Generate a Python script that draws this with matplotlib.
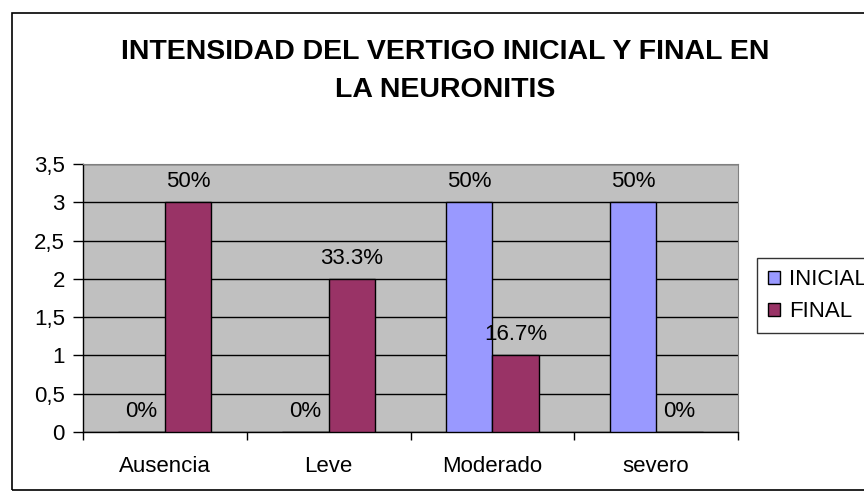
import matplotlib.pyplot as plt
import numpy as np
from matplotlib.patches import Rectangle

plt.rcParams['font.family'] = ['Liberation Sans', 'DejaVu Sans']

# data
categories = ["Ausencia", "Leve", "Moderado", "severo"]
inicial = [0, 0, 3, 3]
final = [3, 2, 1, 0]
inicial_labels = ["0%", "0%", "50%", "50%"]
final_labels = ["50%", "33.3%", "16.7%", "0%"]
y_ticks = [0, 0.5, 1, 1.5, 2, 2.5, 3, 3.5]
y_tick_labels = ["0", "0,5", "1", "1,5", "2", "2,5", "3", "3,5"]

W, H = 864, 497
fig = plt.figure(figsize=(W / 100, H / 100), dpi=100)
fig.patch.set_facecolor("white")

# outer chart frame (right edge runs off the picture, as in the original)
fig.patches.append(Rectangle((12 / W, 1 - 490 / H), 2.0, (490 - 13) / H,
                             transform=fig.transFigure, fill=False,
                             edgecolor="black", linewidth=1.2))

left, right, top, bottom = 83, 738, 164, 432
ax = fig.add_axes([left / W, 1 - bottom / H, (right - left) / W, (bottom - top) / H])
ax.set_facecolor("#C0C0C0")

x = np.arange(len(categories))
bw = 0.284
b1 = ax.bar(x - bw / 2, inicial, bw, color="#9999FF", edgecolor="black", linewidth=1, label="INICIAL", zorder=3)
b2 = ax.bar(x + bw / 2, final, bw, color="#993366", edgecolor="black", linewidth=1, label="FINAL", zorder=3)

for bars, labs in [(b1, inicial_labels), (b2, final_labels)]:
    for rect, lab in zip(bars, labs):
        ax.annotate(lab, (rect.get_x() + rect.get_width() / 2, rect.get_height()),
                    xytext=(0, 15), textcoords="offset points",
                    ha="center", va="center", fontsize=16, zorder=5)

ax.set_xlim(-0.5, len(categories) - 0.5)
ax.set_ylim(0, 3.5)
ax.set_yticks(y_ticks)
ax.set_yticklabels(y_tick_labels, fontsize=16)
ax.yaxis.grid(True, color="black", linewidth=1)
ax.set_axisbelow(True)
ax.tick_params(axis="y", length=7, width=1, pad=6)

ax.set_xticks(x)
ax.set_xticklabels(categories, fontsize=16)
ax.set_xticks(np.arange(len(categories) + 1) - 0.5, minor=True)
ax.tick_params(axis="x", which="major", length=0, pad=17)
ax.tick_params(axis="x", which="minor", length=6, width=1)

for s in ["top", "right"]:
    ax.spines[s].set_color("#808080")
for s in ["left", "bottom"]:
    ax.spines[s].set_color("black")
    ax.spines[s].set_linewidth(1)

fig.text(445 / W, 1 - 71 / H, "INTENSIDAD DEL VERTIGO INICIAL Y FINAL EN\nLA NEURONITIS",
         ha="center", va="center", fontsize=20.5, fontweight="bold", linespacing=1.6)

leg = fig.legend(handles=[b1, b2], loc="upper left", bbox_to_anchor=(757 / W, 1 - 258 / H),
                 fontsize=16, frameon=True, fancybox=False, edgecolor="black",
                 handlelength=0.55, handleheight=0.55, handletextpad=0.4,
                 borderpad=0.5, labelspacing=0.5, borderaxespad=0)
leg.get_frame().set_linewidth(1)

fig.savefig("out.png", dpi=100)
